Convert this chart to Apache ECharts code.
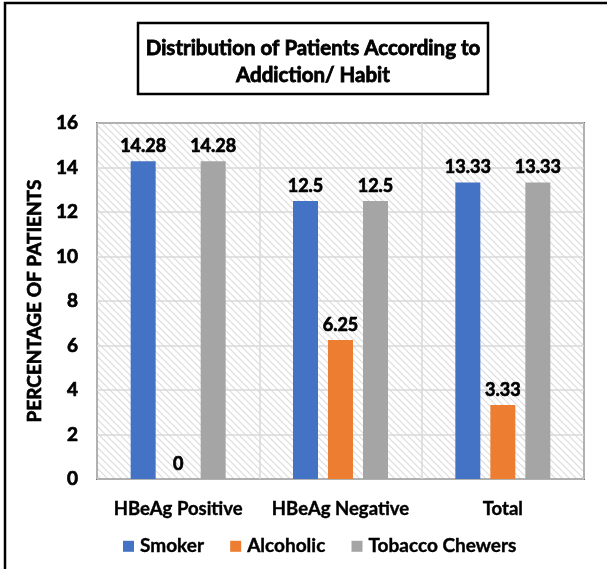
<!DOCTYPE html>
<html><head><meta charset="utf-8">
<script src="https://cdn.jsdelivr.net/npm/echarts@6/dist/echarts.min.js"></script>
<style>html,body{margin:0;padding:0;background:#fff}#c{width:607px;height:569px}</style>
</head><body><div id="c"></div>
<script>
const categories = ['HBeAg Positive', 'HBeAg Negative', 'Total'];
const smoker = [14.28, 12.5, 13.33];
const alcoholic = [0, 6.25, 3.33];
const tobacco = [14.28, 12.5, 13.33];
const seriesNames = ['Smoker', 'Alcoholic', 'Tobacco Chewers'];
const colors = ['#4472C4', '#ED7D31', '#A5A5A5'];

const FONT = 'Lato';
const W = 'bold';
const TB = {textBorderColor: '#000', textBorderWidth: 0.7};
const s = 7;
const cv = document.createElement('canvas');
cv.width = s; cv.height = s;
const cx = cv.getContext('2d');
cx.fillStyle = '#fff'; cx.fillRect(0, 0, s, s);
cx.strokeStyle = '#dcdcdc'; cx.lineWidth = 1.2;
cx.beginPath();
cx.moveTo(-1, -1); cx.lineTo(s + 1, s + 1);
cx.moveTo(-1, s - 1); cx.lineTo(1, s + 1);
cx.moveTo(s - 1, -1); cx.lineTo(s + 1, 1);
cx.stroke();

const chart = echarts.init(document.getElementById('c'), null, {renderer: 'canvas'});
const lbl = Object.assign({show: true, position: 'top', distance: 6, color: '#000', fontFamily: FONT, fontWeight: W, fontSize: 18}, TB);
const data = [smoker, alcoholic, tobacco];
chart.setOption({
  animation: false,
  backgroundColor: '#fff',
  graphic: [
    {type: 'rect', shape: {x: 5, y: 3, width: 620, height: 600}, style: {fill: 'none', stroke: '#000', lineWidth: 2.5}, z: 100},
    {type: 'rect', shape: {x: 138, y: 23, width: 350, height: 71}, style: {fill: '#fff', stroke: '#000', lineWidth: 2.5}, z: 50},
    {type: 'text', style: {text: 'Distribution of Patients According to\nAddiction/ Habit', x: 313, y: 35, textAlign: 'center', fontFamily: FONT, fontWeight: W, fontSize: 20.5, lineHeight: 27, fill: '#000', stroke: '#000', lineWidth: 0.8}, z: 51}
  ],
  grid: {left: 97, right: 23, top: 123, bottom: 90, show: true, backgroundColor: {image: cv, repeat: 'repeat'}, borderColor: '#000', borderWidth: 1.5},
  legend: {
    data: seriesNames, bottom: 8, left: 118, itemWidth: 11, itemHeight: 11, itemGap: 26,
    textStyle: Object.assign({fontFamily: FONT, fontSize: 19, color: '#000', fontWeight: W, padding: [0, 0, 0, 1]}, {textBorderColor: '#000', textBorderWidth: 0.4}),
    icon: 'rect'
  },
  xAxis: {
    type: 'category', data: categories,
    axisLine: {show: false}, axisTick: {show: false},
    axisLabel: Object.assign({fontFamily: FONT, fontSize: 18.5, color: '#000', margin: 21, fontWeight: W, interval: 0}, {textBorderColor: '#000', textBorderWidth: 0.4}),
    splitLine: {show: true, interval: 0, lineStyle: {color: '#d9d9d9', width: 1.5}}
  },
  yAxis: {
    type: 'value', min: 0, max: 16, interval: 2,
    name: 'PERCENTAGE OF PATIENTS', nameLocation: 'middle', nameGap: 52,
    nameTextStyle: Object.assign({fontFamily: FONT, fontWeight: W, fontSize: 19, color: '#000'}, TB),
    axisLine: {show: false}, axisTick: {show: false},
    axisLabel: Object.assign({fontFamily: FONT, fontSize: 19, color: '#000', margin: 19, fontWeight: W}, TB),
    splitLine: {show: true, lineStyle: {color: '#d9d9d9', width: 1.5}}
  },
  series: seriesNames.map((n, i) => ({
    name: n, type: 'bar', data: data[i], barWidth: 25, barGap: '40%',
    itemStyle: {color: colors[i]}, label: lbl
  }))
});
</script></body></html>
